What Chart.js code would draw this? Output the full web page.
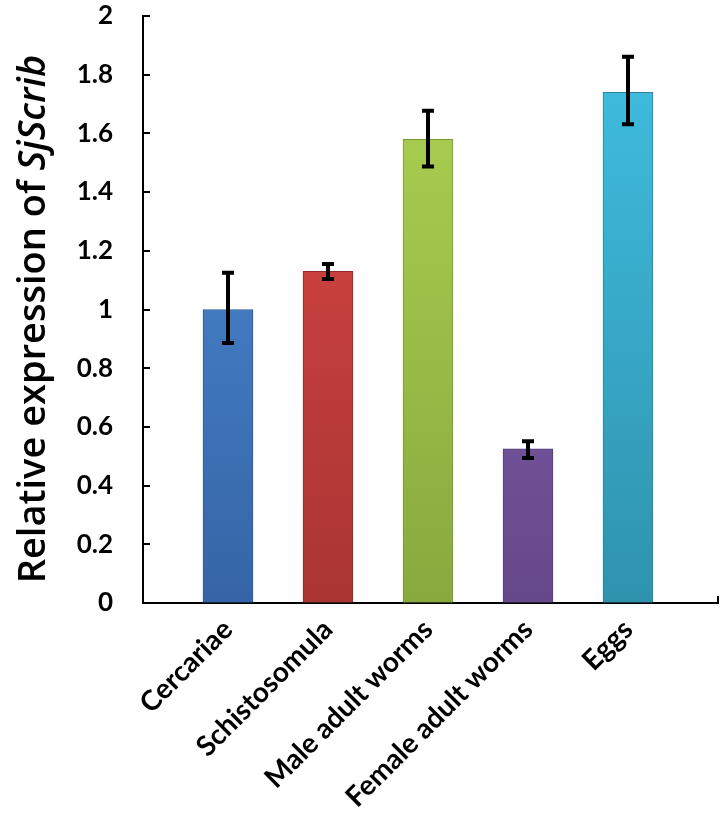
<!DOCTYPE html>
<html>
<head>
<meta charset="utf-8">
<script src="https://cdn.jsdelivr.net/npm/chart.js@4.4.1/dist/chart.umd.min.js"></script>
<style>
  html, body { margin: 0; padding: 0; background: #fff; }
  #wrap { width: 726px; height: 827px; }
</style>
</head>
<body>
<div id="wrap"><canvas id="chart" width="726" height="827"></canvas></div>
<script>
// 数据
const categories = ['Cercariae', 'Schistosomula', 'Male adult worms', 'Female adult worms', 'Eggs'];
const values = [1.00, 1.13, 1.58, 0.525, 1.74];
const errLow = [0.886, 1.104, 1.487, 0.494, 1.631];
const errHigh = [1.125, 1.155, 1.677, 0.551, 1.861];
const yTicks = [0, 0.2, 0.4, 0.6, 0.8, 1, 1.2, 1.4, 1.6, 1.8, 2];

// 每根柱子的颜色 (顶部, 底部, 边框)
const barColors = [
  ['#4f8fd9', '#3565a6', '#2d5a94'],
  ['#de4846', '#a93533', '#8f2c2a'],
  ['#afd453', '#89a93e', '#7a9636'],
  ['#8e66bb', '#654889', '#573d77'],
  ['#41c0e3', '#2f93ae', '#2a8199']
];

function barFill(context) {
  const chart = context.chart;
  const area = chart.chartArea;
  if (!area) return barColors[context.dataIndex][0];
  const c = barColors[context.dataIndex];
  const g = chart.ctx.createLinearGradient(0, area.top, 0, area.bottom);
  g.addColorStop(0, c[0]);
  g.addColorStop(1, c[1]);
  return g;
}

// 误差线
const errorBars = {
  id: 'errorBars',
  afterDatasetsDraw(chart) {
    const ctx = chart.ctx;
    const y = chart.scales.y;
    const meta = chart.getDatasetMeta(0);
    ctx.save();
    ctx.strokeStyle = '#000';
    ctx.lineWidth = 4;
    meta.data.forEach((bar, i) => {
      const top = y.getPixelForValue(errHigh[i]);
      const bot = y.getPixelForValue(errLow[i]);
      ctx.beginPath();
      ctx.moveTo(bar.x, top);
      ctx.lineTo(bar.x, bot);
      ctx.moveTo(bar.x - 6, top);
      ctx.lineTo(bar.x + 6, top);
      ctx.moveTo(bar.x - 6, bot);
      ctx.lineTo(bar.x + 6, bot);
      ctx.stroke();
    });
    ctx.restore();
  }
};

// 坐标轴内侧刻度 + 纵轴标题
const axisExtras = {
  id: 'axisExtras',
  afterDraw(chart) {
    const ctx = chart.ctx;
    const y = chart.scales.y;
    const area = chart.chartArea;
    ctx.save();
    ctx.strokeStyle = '#000';
    ctx.lineWidth = 2;
    yTicks.forEach(v => {
      const py = Math.round(y.getPixelForValue(v));
      ctx.beginPath();
      ctx.moveTo(area.left, py);
      ctx.lineTo(area.left + 7, py);
      ctx.stroke();
    });
    ctx.beginPath();
    ctx.moveTo(area.right, area.bottom);
    ctx.lineTo(area.right, area.bottom - 7);
    ctx.stroke();

    // 标题: Relative expression of SjScrib
    const part1 = 'Relative expression of ';
    const part2 = 'SjScrib';
    ctx.font = '600 30px "Open Sans", sans-serif';
    const base = ctx.measureText(part1).width;
    ctx.font = 'italic 600 30px "Open Sans", sans-serif';
    const baseTotal = base + ctx.measureText(part2).width;
    const size = Math.round(30 * 532 / baseTotal);
    const f1 = '600 ' + size + 'px "Open Sans", sans-serif';
    const f2 = 'italic 600 ' + size + 'px "Open Sans", sans-serif';
    ctx.font = f1;
    const w1 = ctx.measureText(part1).width;
    ctx.font = f2;
    const w2 = ctx.measureText(part2).width;
    ctx.translate(34, 319);
    ctx.rotate(-Math.PI / 2);
    ctx.fillStyle = '#000';
    ctx.textBaseline = 'middle';
    ctx.textAlign = 'left';
    const start = -(w1 + w2) / 2;
    ctx.font = f1;
    ctx.fillText(part1, start, 0);
    ctx.font = f2;
    ctx.fillText(part2, start + w1, 0);
    ctx.restore();
  }
};

const ctx = document.getElementById('chart').getContext('2d');
new Chart(ctx, {
  type: 'bar',
  data: {
    datasets: [{
      data: values.map((v, i) => ({ x: i, y: v })),
      backgroundColor: barFill,
      borderColor: barColors.map(c => c[2]),
      borderWidth: 1,
      barThickness: 50
    }]
  },
  options: {
    responsive: false,
    animation: false,
    layout: { padding: { top: 16, right: 8, left: 0, bottom: 0 } },
    plugins: { legend: { display: false }, tooltip: { enabled: false } },
    scales: {
      x: {
        type: 'linear',
        offset: false,
        min: -0.85,
        max: 4.9,
        grid: { display: true, drawOnChartArea: false, drawTicks: false },
        border: { display: true, color: '#000', width: 2 },
        afterFit(scale) { scale.height = 224; scale.paddingLeft = 0; scale.paddingRight = 0; },
        ticks: {
          stepSize: 1,
          includeBounds: false,
          autoSkip: false,
          maxRotation: 45,
          minRotation: 45,
          padding: 10,
          color: '#000',
          font: { family: 'Lato', weight: 'bold', size: 28 },
          callback: v => (Number.isInteger(v) && categories[v]) ? categories[v] : ''
        }
      },
      y: {
        min: 0,
        max: 2,
        grid: { display: true, drawOnChartArea: false, drawTicks: false },
        border: { display: true, color: '#000', width: 2 },
        afterFit(scale) { scale.width = 143; scale.paddingTop = 0; scale.paddingBottom = 0; },
        afterBuildTicks(scale) { scale.ticks = yTicks.map(v => ({ value: v })); },
        ticks: {
          padding: 30,
          color: '#000',
          font: { family: 'Lato', weight: 'bold', size: 26 },
          callback: v => String(v)
        }
      }
    }
  },
  plugins: [errorBars, axisExtras]
});
</script>
</body>
</html>
